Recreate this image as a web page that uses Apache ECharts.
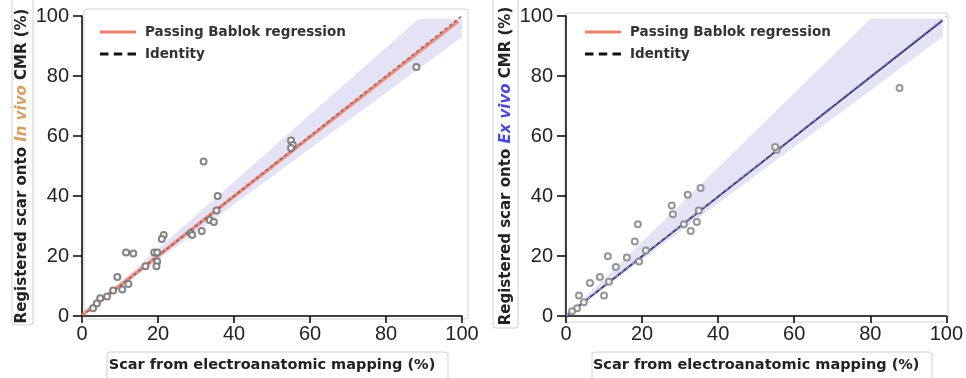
<!DOCTYPE html>
<html>
<head>
<meta charset="utf-8">
<script src="https://cdn.jsdelivr.net/npm/echarts@6/dist/echarts.min.js"></script>
<style>
  html, body { margin: 0; padding: 0; background: #fff; }
  #chart { width: 966px; height: 378px; }
</style>
</head>
<body>
<div id="chart"></div>
<script>
// ---- Data ----
const axisTicks = [0, 20, 40, 60, 80, 100]

// In vivo panel (left)
const inVivoEam = [88, 55, 55.5, 55, 32, 35.7, 35.4, 33.6, 34.7, 31.5, 28.6, 29, 21.5, 21, 19, 19.8, 19.8, 19.6, 16.7, 11.6, 13.5, 9.3, 10.6, 12.2, 8.2, 6.6, 4.8, 3.9, 2.9]
const inVivoCmr = [83, 58.5, 57, 56, 51.5, 40, 35.2, 32, 31.3, 28.3, 27.7, 27, 27, 25.7, 21.2, 21.2, 18.2, 16.6, 16.6, 21.2, 20.8, 13, 8.8, 10.7, 8.5, 6.5, 5.9, 4.2, 2.6]
const inVivoFitX = [0, 99]
const inVivoFitY = [0.3, 98.3]
const inVivoBandX = [0, 100, 100, 88.5]
const inVivoBandY = [0, 93, 99, 99]

// Ex vivo panel (right)
const exVivoEam = [87.7, 55.4, 55, 35.4, 32, 27.8, 28.1, 18.9, 31, 34.4, 32.8, 34.9, 18.1, 21, 16, 19.2, 11, 13.1, 11.3, 8.9, 6.3, 10, 3.4, 4.7, 2.9, 1.6]
const exVivoCmr = [76, 55.4, 56.3, 42.7, 40.4, 36.8, 33.9, 30.6, 30.6, 31.3, 28.3, 35.2, 24.8, 21.8, 19.5, 18.2, 19.9, 16.3, 11.4, 13, 11, 6.8, 6.8, 4.6, 2.6, 1.6]
const exVivoFitX = [0, 99]
const exVivoFitY = [0, 98.5]
const exVivoBandX = [0, 99, 99, 80]
const exVivoBandY = [0, 93, 99, 99]

const identityX = [0, 100]
const identityY = [0, 100]

const FONT = '"Liberation Sans", Arial, sans-serif'
const BOLD_FONT = '"DejaVu Sans", "Liberation Sans", sans-serif'
const RED = '#ec7f6a'
const NAVY = '#3c3c78'
const BAND = 'rgba(210,206,238,0.6)'
const FRAME = '#cfcfcf'

function pairs(xs, ys) {
  return xs.map((x, i) => [x, ys[i]])
}

function xAxisFor(gridIndex) {
  return {
    type: 'value',
    gridIndex,
    min: 0,
    max: 100,
    interval: 20,
    name: 'Scar from electroanatomic mapping (%)',
    nameLocation: 'middle',
    nameGap: 42,
    nameTextStyle: { fontFamily: BOLD_FONT, fontSize: 14.5, fontWeight: 'bold', color: '#222' },
    axisLine: { lineStyle: { color: '#000', width: 1.5 } },
    axisTick: { length: 7, lineStyle: { color: '#000', width: 1.5 } },
    axisLabel: { fontFamily: FONT, fontSize: 20, color: '#222', margin: 8,
      formatter: (v) => (axisTicks.includes(v) ? String(v) : '') },
    splitLine: { show: false },
  }
}

function yAxisFor(gridIndex, word, wordColor) {
  return {
    type: 'value',
    gridIndex,
    min: 0,
    max: 100,
    interval: 20,
    name: '{b|Registered scar onto }{o|' + word + '}{b| CMR (%)}',
    nameLocation: 'middle',
    nameRotate: 90,
    nameGap: 52,
    nameTextStyle: {
      rich: {
        b: { fontFamily: BOLD_FONT, fontSize: 15, fontWeight: 'bold', color: '#222' },
        o: { fontFamily: BOLD_FONT, fontSize: 15, fontWeight: 'bold', fontStyle: 'italic', color: wordColor },
      },
    },
    axisLine: { lineStyle: { color: '#000', width: 1.5 } },
    axisTick: { length: 9, lineStyle: { color: '#000', width: 1.5 } },
    axisLabel: { fontFamily: FONT, fontSize: 20, color: '#222', margin: 13 },
    splitLine: { show: false },
  }
}

function bandSeries(idx, xs, ys) {
  return {
    type: 'custom',
    xAxisIndex: idx,
    yAxisIndex: idx,
    data: [0],
    silent: true,
    z: 1,
    renderItem(params, api) {
      const pts = xs.map((x, i) => api.coord([x, ys[i]]))
      return { type: 'polygon', shape: { points: pts }, style: { fill: BAND } }
    },
  }
}

function lineSeries(idx, name, xs, ys, style, z) {
  return {
    name,
    type: 'line',
    xAxisIndex: idx,
    yAxisIndex: idx,
    data: pairs(xs, ys),
    symbol: 'none',
    lineStyle: style,
    z,
  }
}

function scatterSeries(idx, xs, ys, color) {
  return {
    type: 'scatter',
    xAxisIndex: idx,
    yAxisIndex: idx,
    data: pairs(xs, ys),
    symbol: 'emptyCircle',
    symbolSize: 6,
    itemStyle: { color, borderWidth: 1.2, opacity: 0.9 },
    z: 4,
  }
}

function legendFor(left) {
  return {
    left,
    top: 20,
    orient: 'vertical',
    itemWidth: 36,
    itemHeight: 14,
    itemGap: 8,
    selectedMode: false,
    textStyle: { fontFamily: BOLD_FONT, fontSize: 13.5, fontWeight: 'bold', color: '#333', padding: [0, 0, 0, 4] },
    data: [
      { name: 'Passing Bablok regression', icon: 'path://M0,0L36,0L36,3L0,3Z', itemStyle: { color: RED } },
      { name: 'Identity', icon: 'path://M0,0L8,0L8,3L0,3ZM13,0L21,0L21,3L13,3ZM26,0L34,0L34,3L26,3Z', itemStyle: { color: '#111' } },
    ],
  }
}

function frame(x, y, w, h) {
  return { type: 'rect', shape: { x, y, width: w, height: h, r: 3 }, style: { fill: 'none', stroke: FRAME, lineWidth: 1 }, z: -1 }
}

const chart = echarts.init(document.getElementById('chart'), null, { renderer: 'canvas' })

chart.setOption({
  animation: false,
  backgroundColor: '#fff',
  graphic: [
    frame(84, 9, 384, 310),
    frame(565, 13, 383, 309),
    frame(12, -2, 21, 327),
    frame(493, -2, 25, 330),
    frame(107, 352, 341, 40),
    frame(592, 352, 340, 40),
  ],
  grid: [
    { left: 82, top: 16, width: 380, height: 307 },
    { left: 566, top: 16, width: 381, height: 307 },
  ],
  legend: [legendFor(95), legendFor(580)],
  xAxis: [xAxisFor(0), xAxisFor(1)],
  yAxis: [yAxisFor(0, 'In vivo', '#d8a060'), yAxisFor(1, 'Ex vivo', '#4848e0')],
  series: [
    bandSeries(0, inVivoBandX, inVivoBandY),
    lineSeries(0, 'Passing Bablok regression', inVivoFitX, inVivoFitY, { color: RED, width: 3.5, opacity: 0.85 }, 2),
    lineSeries(0, 'Identity', identityX, identityY, { color: '#9a5a50', width: 1.5, type: [3, 3] }, 3),
    scatterSeries(0, inVivoEam, inVivoCmr, '#777'),

    bandSeries(1, exVivoBandX, exVivoBandY),
    lineSeries(1, 'Passing Bablok regression', exVivoFitX, exVivoFitY, { color: NAVY, width: 2 }, 2),
    lineSeries(1, 'Identity', identityX, identityY, { color: '#9a9ad8', width: 1.2, type: [3, 4] }, 3),
    scatterSeries(1, exVivoEam, exVivoCmr, '#8a8a8a'),
  ],
})
</script>
</body>
</html>
